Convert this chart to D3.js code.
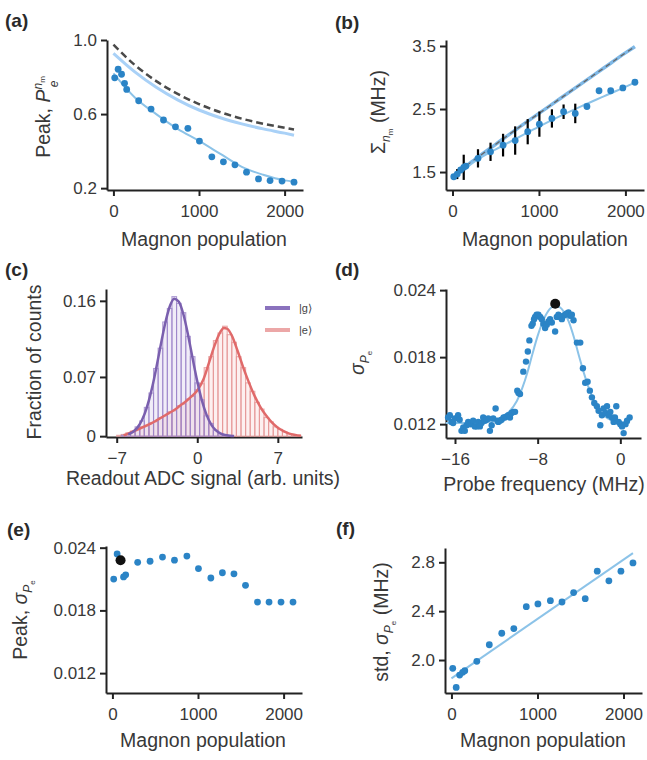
<!DOCTYPE html>
<html>
<head>
<meta charset="utf-8">
<script src="https://cdn.jsdelivr.net/npm/d3@7"></script>
<style>
body { margin: 0; background: #fff; }
text { font-family: "Liberation Sans", Arial, sans-serif; }
</style>
</head>
<body>
<script>
// ---- data ----
var magnon = [15, 55, 95, 130, 155, 295, 440, 585, 725, 870, 1005, 1150, 1285, 1420, 1555, 1695, 1830, 1970, 2110];

// (a) peak excited-state population
var peakPe = [0.796, 0.842, 0.815, 0.766, 0.733, 0.672, 0.627, 0.568, 0.531, 0.523, 0.454, 0.369, 0.342, 0.326, 0.286, 0.250, 0.241, 0.238, 0.232];
var curveN = [0, 250, 500, 750, 1000, 1250, 1500, 1750, 2000, 2110];
var peakIdeal = [0.975, 0.865, 0.778, 0.709, 0.654, 0.610, 0.575, 0.548, 0.526, 0.517];
var peakModel = [0.928, 0.828, 0.745, 0.677, 0.622, 0.580, 0.547, 0.520, 0.497, 0.486];
var peakFit = [0.820, 0.690, 0.600, 0.520, 0.455, 0.385, 0.315, 0.272, 0.242, 0.235];

// (b) linewidth
var sigmaN = [1.425, 1.468, 1.532, 1.575, 1.595, 1.717, 1.821, 1.927, 2.000, 2.140, 2.260, 2.350, 2.457, 2.430, 2.540, 2.790, 2.790, 2.835, 2.925];
var sigmaErr = [0, 0.08, 0, 0.20, 0, 0.145, 0.145, 0.18, 0.225, 0.20, 0.20, 0.145, 0.115, 0.155, 0, 0, 0, 0, 0];
var sigmaCurveN = [0, 125, 250, 500, 750, 1000, 1250, 1500, 1750, 2000, 2110];
var sigmaModel = [1.42, 1.56, 1.69, 1.94, 2.19, 2.43, 2.67, 2.91, 3.15, 3.39, 3.49];
var sigmaFit = [1.40, 1.53, 1.66, 1.86, 2.04, 2.22, 2.39, 2.55, 2.70, 2.85, 2.92];

// (c) readout histograms
var adcBins = [-6.8, -6.4, -6.0, -5.6, -5.2, -4.8, -4.4, -4.0, -3.6, -3.2, -2.8, -2.4, -2.0, -1.6, -1.2, -0.8, -0.4, 0.0, 0.4, 0.8,
               1.2, 1.6, 2.0, 2.4, 2.8, 3.2, 3.6, 4.0, 4.4, 4.8, 5.2, 5.6, 6.0, 6.4, 6.8, 7.2, 7.6, 8.0, 8.4, 8.8];
var histG = [0, 0.001, 0.002, 0.005, 0.011, 0.018, 0.034, 0.051, 0.080, 0.104, 0.135, 0.151, 0.165, 0.157, 0.146, 0.118, 0.094, 0.063, 0.043, 0.024,
             0.015, 0.007, 0.003, 0.001, 0.001, 0, 0, 0, 0, 0, 0, 0, 0, 0, 0, 0, 0, 0, 0, 0];
var histE = [0.001, 0.002, 0.004, 0.006, 0.008, 0.011, 0.012, 0.016, 0.017, 0.022, 0.024, 0.029, 0.030, 0.036, 0.038, 0.044, 0.047, 0.055, 0.062, 0.081,
             0.094, 0.113, 0.122, 0.130, 0.120, 0.111, 0.094, 0.081, 0.063, 0.053, 0.040, 0.032, 0.022, 0.017, 0.011, 0.008, 0.005, 0.003, 0.002, 0.001];
var fitGx = [-6.0, -5.6, -5.2, -4.8, -4.4, -4.0, -3.6, -3.2, -2.8, -2.4, -2.0, -1.6, -1.2, -0.8, -0.4, 0.0, 0.4, 0.8, 1.2, 1.6, 2.0, 2.4, 2.8, 3.2];
var fitGy = [0.0022, 0.005, 0.0101, 0.0191, 0.0331, 0.0529, 0.078, 0.106, 0.1326, 0.153, 0.1626, 0.159, 0.1438, 0.1197, 0.0918, 0.0649, 0.0423, 0.0254, 0.014, 0.0072, 0.0034, 0.0015, 0.0006, 0.0002];
var fitEx = [-6.4, -6, -5.5, -5, -4.5, -4, -3.5, -3, -2.5, -2, -1.5, -1, -0.5, 0, 0.5, 1, 1.5, 2, 2.3, 2.6, 3, 3.5, 4, 4.5, 5, 5.5, 6, 6.5, 7, 7.5, 8, 8.5, 9];
var fitEy = [0.001, 0.003, 0.006, 0.009, 0.012, 0.015, 0.019, 0.023, 0.027, 0.031, 0.036, 0.041, 0.047, 0.054, 0.066, 0.086, 0.107, 0.123, 0.128, 0.127,
             0.119, 0.101, 0.081, 0.063, 0.047, 0.034, 0.024, 0.016, 0.010, 0.006, 0.003, 0.0015, 0.0005];
var stateNames = ["|g\u27E9", "|e\u27E9"];

// (d) probe spectrum
var probeFreq = [-16.67, -16.5, -16.34, -16.18, -16.02, -15.7, -15.55, -15.37, -15.2, -15.05, -14.88, -14.72, -14.56, -14.4, -14.24, -14.08,
  -13.91, -13.75, -13.59, -13.43, -13.27, -13.1, -12.94, -12.78, -12.62, -12.45, -12.3, -12.07, -11.9, -11.81, -11.65, -11.49, -11.3,
  -11.17, -11.0, -10.84, -10.68, -10.52, -10.36, -10.19, -9.97, -9.85, -9.71, -9.39, -9.13, -8.95, -8.8, -8.6, -8.48, -8.35, -8.25,
  -8.1, -7.93, -7.75, -7.6, -7.45, -7.28, -7.12, -6.96, -6.8, -6.63, -6.31, -6.15, -5.99, -5.82, -5.66, -5.5, -5.34, -5.18, -5.02,
  -4.85, -4.69, -4.53, -4.2, -3.88, -3.62, -3.4, -3.17, -2.95, -2.75, -2.52, -2.27, -2.1, -1.94, -1.78, -1.62, -1.45, -1.29, -1.13,
  -0.97, -0.81, -0.65, -0.52, -0.39, -0.16, 0.0, 0.17, 0.32, 0.5, 0.65, 0.9];
var sigmaPe = [0.0126, 0.0128, 0.0122, 0.0121, 0.0125, 0.0128, 0.0124, 0.0114, 0.0117, 0.0114, 0.0119, 0.0122, 0.0120, 0.0120, 0.0123, 0.0118,
  0.0118, 0.0122, 0.0118, 0.0121, 0.0126, 0.0123, 0.0124, 0.0125, 0.0114, 0.0119, 0.0125, 0.0134, 0.0123, 0.0122, 0.0123, 0.0124, 0.0126,
  0.0126, 0.0127, 0.0128, 0.0126, 0.0130, 0.0131, 0.0131, 0.0150, 0.0148, 0.0147, 0.0167, 0.0176, 0.0185, 0.0195, 0.0208, 0.0210, 0.0214, 0.0216,
  0.0218, 0.0218, 0.0216, 0.0214, 0.0210, 0.0206, 0.0209, 0.0212, 0.0214, 0.0211, 0.0203, 0.0216, 0.0218, 0.0216, 0.0214, 0.0217, 0.0218, 0.0219, 0.0220,
  0.0217, 0.0218, 0.0213, 0.0193, 0.0193, 0.0170, 0.0157, 0.0158, 0.0150, 0.0144, 0.0139, 0.0136, 0.0132, 0.0119, 0.0128, 0.0134, 0.0130, 0.0136, 0.0128,
  0.0131, 0.0126, 0.0122, 0.0126, 0.0136, 0.0122, 0.0120, 0.0118, 0.0112, 0.0120, 0.0123, 0.0126];
var probeFitX = [-16.9, -15, -13, -12, -11, -10, -9.5, -9, -8.5, -8, -7.5, -7, -6.5, -6, -5.5, -5, -4.5, -4, -3.5, -3, -2.5, -2, -1.5, -1, 0, 0.9];
var probeFitY = [0.0121, 0.0121, 0.0122, 0.0124, 0.0129, 0.0141, 0.0152, 0.0166, 0.0183, 0.0199, 0.0212, 0.0221, 0.0225, 0.0225, 0.0221, 0.0212,
  0.0198, 0.0181, 0.0165, 0.0151, 0.0140, 0.0132, 0.0127, 0.0124, 0.0122, 0.0121];
var probePeak = [-6.3, 0.02278];

// (e) peak sigma, (f) std
var peakSigma = [0.0210, 0.0234, 0.0228, 0.0212, 0.0214, 0.0226, 0.0227, 0.0231, 0.0228, 0.0232, 0.0220, 0.0211, 0.0216, 0.0215, 0.0204, 0.0188, 0.0188, 0.0188, 0.0188];
var highlightIdx = 2;
var stdSigma = [1.932, 1.776, 1.877, 1.899, 1.912, 1.989, 2.125, 2.219, 2.257, 2.437, 2.459, 2.486, 2.475, 2.552, 2.502, 2.727, 2.648, 2.727, 2.795];
var stdFitN = [0, 2110];
var stdFit = [1.85, 2.875];

// ---- drawing ----
var blue = "#2b84c6";
var fitBlue = "#8cc3e8";
var ink = "#222";
var tickFont = "17px";
var labelFont = "19.5px";

var svg = d3.select("body")
    .append("svg")
    .attr("width", 647)
    .attr("height", 760);

function panel(o) {
    var x = d3.scaleLinear().domain(o.xDom).range(o.xRange);
    var y = d3.scaleLinear().domain(o.yDom).range(o.yRange);
    var g = svg.append("g");

    g.append("g")
        .attr("transform", "translate(0," + o.yRange[0] + ")")
        .call(d3.axisBottom(x).tickValues(o.xTicks).tickSize(6).tickSizeOuter(0).tickPadding(9)
            .tickFormat(o.xFmt || d3.format("d")));
    g.append("g")
        .attr("transform", "translate(" + o.xRange[0] + ",0)")
        .call(d3.axisLeft(y).tickValues(o.yTicks).tickSize(6).tickSizeOuter(0).tickPadding(4)
            .tickFormat(o.yFmt));

    g.selectAll(".domain, .tick line").attr("stroke", ink).attr("stroke-width", 2);
    g.selectAll(".tick text")
        .attr("fill", "#383838")
        .attr("font-size", tickFont)
        .attr("font-family", "Liberation Sans, Arial, sans-serif");

    // panel letter
    svg.append("text")
        .attr("x", o.tag[0]).attr("y", o.tag[1])
        .attr("font-size", "19px").attr("font-weight", "bold")
        .attr("fill", "#2a2a2a")
        .text(o.letter);

    // x label
    svg.append("text")
        .attr("x", o.xLab[0]).attr("y", o.xLab[1])
        .attr("text-anchor", "middle")
        .attr("font-size", labelFont).attr("fill", "#383838")
        .text(o.xLabel);

    var yl = svg.append("text")
        .attr("transform", "translate(" + o.yLab[0] + "," + o.yLab[1] + ") rotate(-90)")
        .attr("text-anchor", "middle")
        .attr("font-size", labelFont).attr("fill", "#383838");

    return {x: x, y: y, g: g, yl: yl};
}

function sigmaSub(t) {
    t.append("tspan").attr("font-style", "italic").text("\u03C3");
    t.append("tspan").attr("font-style", "italic").attr("font-size", "12px").attr("dy", 5).text("P");
    t.append("tspan").attr("font-size", "8px").attr("dy", 3).text("e");
}

function dots(p, xs, ys, r, color) {
    p.g.selectAll(null)
        .data(xs)
        .enter()
        .append("circle")
        .attr("cx", (d) => p.x(d))
        .attr("cy", (d, i) => p.y(ys[i]))
        .attr("r", r)
        .attr("fill", color);
}

function curve(p, xs, ys) {
    return d3.line()
        .x((d) => p.x(d))
        .y((d, i) => p.y(ys[i]))
        .curve(d3.curveMonotoneX)(xs);
}

// ---------- (a) ----------
var A = panel({
    xDom: [-75, 2215], xRange: [107, 303],
    yDom: [0.19, 1.0], yRange: [190, 40],
    xTicks: [0, 1000, 2000], yTicks: [0.2, 0.6, 1.0], yFmt: d3.format(".1f"),
    letter: "(a)", tag: [5, 27],
    xLabel: "Magnon population", xLab: [204, 246],
    yLab: [50, 117]
});
A.yl.append("tspan").text("Peak, ");
A.yl.append("tspan").attr("font-style", "italic").text("P");
A.yl.append("tspan").attr("font-style", "italic").attr("font-size", "12px").attr("dy", -8).text("n");
A.yl.append("tspan").attr("font-size", "8px").attr("dy", 3).text("m");
A.yl.append("tspan").attr("font-style", "italic").attr("font-size", "12px").attr("dx", -11).attr("dy", 13).text("e");

A.g.append("path").attr("d", curve(A, curveN, peakModel))
    .attr("fill", "none").attr("stroke", "#a9d1f7").attr("stroke-width", 3);
A.g.append("path").attr("d", curve(A, curveN, peakIdeal))
    .attr("fill", "none").attr("stroke", "#4a4a4a").attr("stroke-width", 2.5).attr("stroke-dasharray", "7,4");
A.g.append("path").attr("d", curve(A, curveN, peakFit))
    .attr("fill", "none").attr("stroke", fitBlue).attr("stroke-width", 2);
dots(A, magnon, peakPe, 3.4, blue);

// ---------- (b) ----------
var B = panel({
    xDom: [-75, 2215], xRange: [446, 644],
    yDom: [1.215, 3.595], yRange: [190, 40],
    xTicks: [0, 1000, 2000], yTicks: [1.5, 2.5, 3.5], yFmt: d3.format(".1f"),
    letter: "(b)", tag: [335, 29],
    xLabel: "Magnon population", xLab: [545, 246],
    yLab: [385, 112]
});
B.yl.append("tspan").text("\u03A3");
B.yl.append("tspan").attr("font-style", "italic").attr("font-size", "12px").attr("dy", 5).text("n");
B.yl.append("tspan").attr("font-size", "8px").attr("dy", 3).text("m");
B.yl.append("tspan").attr("dy", -8).text(" (MHz)");

B.g.append("path").attr("d", curve(B, sigmaCurveN, sigmaModel))
    .attr("fill", "none").attr("stroke", "#7fb8e6").attr("stroke-width", 3.5);
B.g.append("path").attr("d", curve(B, sigmaCurveN, sigmaModel))
    .attr("fill", "none").attr("stroke", "#666").attr("stroke-width", 1.3).attr("stroke-dasharray", "5,4");
B.g.append("path").attr("d", curve(B, sigmaCurveN, sigmaFit))
    .attr("fill", "none").attr("stroke", fitBlue).attr("stroke-width", 2);
B.g.selectAll(null)
    .data(magnon.filter((d, i) => sigmaErr[i] > 0))
    .enter()
    .append("line")
    .each(function (d) {
        var i = magnon.indexOf(d);
        d3.select(this)
            .attr("x1", B.x(d)).attr("x2", B.x(d))
            .attr("y1", B.y(sigmaN[i] - sigmaErr[i]))
            .attr("y2", B.y(sigmaN[i] + sigmaErr[i]));
    })
    .attr("stroke", "#000").attr("stroke-width", 2.2);
dots(B, magnon, sigmaN, 3.4, blue);

// ---------- (c) ----------
var C = panel({
    xDom: [-7.93, 9.1], xRange: [106, 302],
    yDom: [-0.001, 0.174], yRange: [437, 289],
    xTicks: [-7, 0, 7], yTicks: [0, 0.07, 0.16], yFmt: (d) => d === 0 ? "0" : d3.format(".2f")(d),
    letter: "(c)", tag: [5, 276],
    xLabel: "Readout ADC signal (arb. units)", xLab: [203, 485],
    yLab: [41, 362]
});
C.yl.text("Fraction of counts");

var binW = 0.4;
var histColors = [["#b7a3da", "#9c84c9"], ["#f3b4b4", "#e59494"]];
[histE, histG].forEach((h, k) => {
    var col = k === 0 ? histColors[1] : histColors[0];
    C.g.selectAll(null)
        .data(adcBins)
        .enter()
        .append("rect")
        .attr("x", (d) => C.x(d - binW / 2))
        .attr("width", C.x(binW) - C.x(0))
        .attr("y", (d, i) => C.y(h[i]))
        .attr("height", (d, i) => C.y(0) - C.y(h[i]))
        .attr("fill", col[0]).attr("fill-opacity", 0.2)
        .attr("stroke", col[1]).attr("stroke-opacity", 0.8).attr("stroke-width", 1.1);
});
C.g.append("path").attr("d", curve(C, fitEx, fitEy))
    .attr("fill", "none").attr("stroke", "#e06a6a").attr("stroke-width", 2.5);
C.g.append("path").attr("d", curve(C, fitGx, fitGy))
    .attr("fill", "none").attr("stroke", "#7a5fae").attr("stroke-width", 2.5);

var legColors = ["#8a72bd", "#eca7a7"];
stateNames.forEach((name, i) => {
    svg.append("line")
        .attr("x1", 265).attr("x2", 290)
        .attr("y1", 308 + i * 22).attr("y2", 308 + i * 22)
        .attr("stroke", legColors[i]).attr("stroke-width", 4);
    svg.append("text")
        .attr("x", 299).attr("y", 312 + i * 22)
        .attr("font-size", "11px").attr("fill", "#444")
        .text(name);
});

// ---------- (d) ----------
var D = panel({
    xDom: [-16.87, 2.0], xRange: [446, 641],
    yDom: [0.01076, 0.0241], yRange: [438, 289],
    xTicks: [-16, -8, 0], yTicks: [0.012, 0.018, 0.024], yFmt: d3.format(".3f"),
    letter: "(d)", tag: [335, 276],
    xLabel: "Probe frequency (MHz)", xLab: [544, 491],
    yLab: [364, 363]
});
sigmaSub(D.yl);
D.g.append("path").attr("d", curve(D, probeFitX, probeFitY))
    .attr("fill", "none").attr("stroke", fitBlue).attr("stroke-width", 2);
dots(D, probeFreq, sigmaPe, 3.2, blue);
dots(D, [probePeak[0]], [probePeak[1]], 5, "#111");

// ---------- (e) ----------
var E = panel({
    xDom: [-75, 2215], xRange: [106, 302],
    yDom: [0.0101, 0.02416], yRange: [693, 546],
    xTicks: [0, 1000, 2000], yTicks: [0.012, 0.018, 0.024], yFmt: d3.format(".3f"),
    letter: "(e)", tag: [7, 536],
    xLabel: "Magnon population", xLab: [203, 747],
    yLab: [27, 620]
});
E.yl.append("tspan").text("Peak, ");
sigmaSub(E.yl);
dots(E, magnon, peakSigma, 3.4, blue);
dots(E, [magnon[highlightIdx]], [peakSigma[highlightIdx]], 5, "#111");

// ---------- (f) ----------
var F = panel({
    xDom: [-75, 2215], xRange: [445, 642],
    yDom: [1.73, 2.917], yRange: [693, 548],
    xTicks: [0, 1000, 2000], yTicks: [2.0, 2.4, 2.8], yFmt: d3.format(".1f"),
    letter: "(f)", tag: [336, 535],
    xLabel: "Magnon population", xLab: [543, 747],
    yLab: [388, 622]
});
F.yl.append("tspan").text("std, ");
sigmaSub(F.yl);
F.yl.append("tspan").attr("dy", -8).text(" (MHz)");
F.g.append("path").attr("d", curve(F, stdFitN, stdFit))
    .attr("fill", "none").attr("stroke", fitBlue).attr("stroke-width", 2);
dots(F, magnon, stdSigma, 3.4, blue);
</script>
</body>
</html>
